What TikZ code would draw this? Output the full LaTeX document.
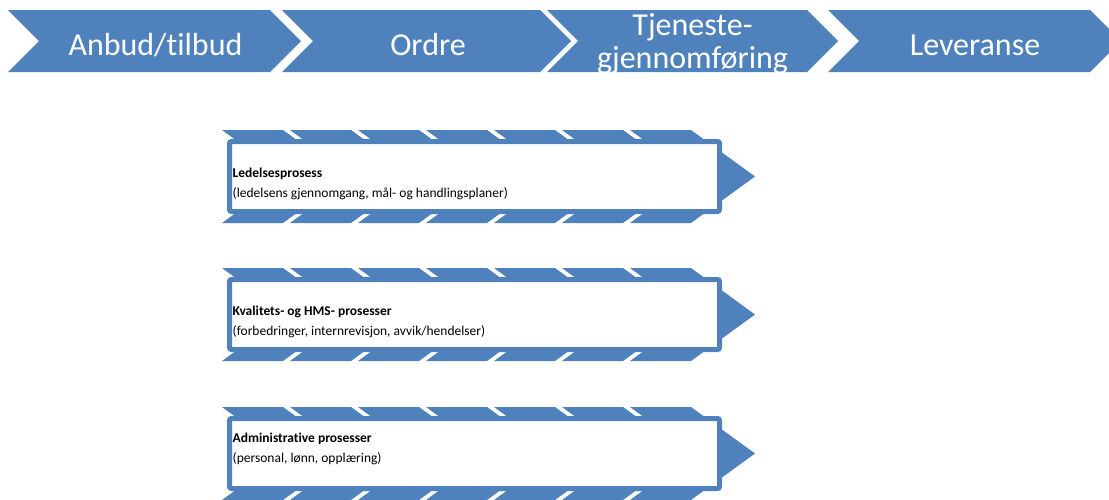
\documentclass[tikz,border=0pt]{standalone}
\usepackage{fontspec}
\setmainfont{Carlito}[Ligatures=NoCommon]
\definecolor{cblue}{HTML}{4F81BD}
\tikzset{
  topchev/.style={fill=cblue},
  toptext/.style={text=white, inner sep=0pt, anchor=base, align=center, font=\fontsize{32}{33}\selectfont},
  procchev/.style={fill=cblue},
  procbox/.style={draw=cblue, line width=5pt, fill=white, rounded corners=2pt},
  ptitle/.style={inner sep=0pt, anchor=base west, font=\fontsize{13.5}{16}\selectfont\bfseries},
  ptext/.style={inner sep=0pt, anchor=base west, font=\fontsize{13.5}{16}\selectfont}
}
\begin{document}
\begin{tikzpicture}[x=1pt,y=-1pt]
\useasboundingbox (0,0) rectangle (1109,499);
\clip (0,0) rectangle (1109,499);
% top process chevrons
\foreach \a/\b in {8/270, 282/540, 547/807, 828/1090}{
  \fill[topchev] (\a,10) -- (\b,10) -- (\b+31,41) -- (\b,72) -- (\a,72) -- (\a+31,41) -- cycle;
}
\node[toptext] (t1) at (155.5,55) {Anbud/tilbud};
\node[toptext] (t2) at (428,55) {Ordre};
\node[toptext] (t3) at (692.5,68) {Tjeneste-\\gjennomføring};
\node[toptext] (t4) at (975,55) {Leveranse};
% process boxes
\foreach \T in {130, 268, 407}{
  \foreach \k in {0,...,6}{
    \fill[procchev] ({222+68*\k},\T) -- ++(61,0) -- ++(64,46.5) -- ++(-64,46.5) -- ++(-61,0) -- ++(64,-46.5) -- cycle;
  }
  \draw[procbox] (229.5,\T+11.5) rectangle (719.5,\T+81.5);
}
\node[ptitle] (a1) at (232.5,177) {Ledelsesprosess};
\node[ptext] (b1) at (232.5,197) {(ledelsens gjennomgang, mål- og handlingsplaner)};
\node[ptitle] (a2) at (232.5,315) {Kvalitets- og HMS- prosesser};
\node[ptext] (b2) at (232.5,335) {(forbedringer, internrevisjon, avvik/hendelser)};
\node[ptitle] (a3) at (232.5,442) {Administrative prosesser};
\node[ptext] (b3) at (232.5,462) {(personal, lønn, opplæring)};
\end{tikzpicture}
\end{document}
